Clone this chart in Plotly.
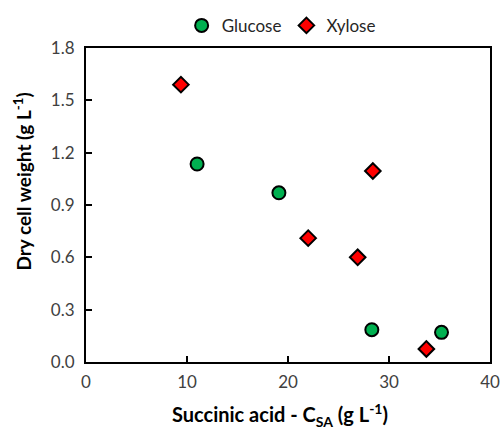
import plotly.graph_objects as go

glucose_x = [11.0, 19.1, 28.3, 35.2]
glucose_y = [1.135, 0.97, 0.185, 0.17]
xylose_x = [9.4, 22.0, 26.9, 28.4, 33.7]
xylose_y = [1.59, 0.71, 0.60, 1.095, 0.075]

x_ticks = [0, 10, 20, 30, 40]
y_ticks = [0.0, 0.3, 0.6, 0.9, 1.2, 1.5, 1.8]

x_title = "<b>Succinic acid - C<sub>SA</sub> (g L<sup>-1</sup>)</b>"
y_title = "<b>Dry cell weight (g L<sup>-1</sup>)</b>"

FONT = "Lato"
TICKC = "#404040"

fig = go.Figure()
fig.add_trace(go.Scatter(
    x=glucose_x, y=glucose_y, mode="markers", name="Glucose",
    marker=dict(symbol="circle", size=13, color="#00B050",
                line=dict(color="black", width=2)),
))
fig.add_trace(go.Scatter(
    x=xylose_x, y=xylose_y, mode="markers", name="Xylose",
    marker=dict(symbol="diamond", size=12, color="#FF0000",
                line=dict(color="black", width=2)),
))

axis_common = dict(
    showgrid=False, zeroline=False, showline=True, linecolor="black", linewidth=2,
    mirror=True, ticks="inside", ticklen=6, tickwidth=2, tickcolor="black",
    tickfont=dict(family=FONT, size=17, color=TICKC), automargin=False,
)

fig.update_layout(
    width=501, height=431,
    margin=dict(l=86, r=11, t=48, b=69),
    paper_bgcolor="white", plot_bgcolor="white",
    font=dict(family=FONT, size=17, color=TICKC),
    showlegend=True,
    legend=dict(orientation="h", x=0.483, xanchor="center",
                yref="container", y=0.94, yanchor="middle",
                font=dict(family=FONT, size=17, color="#262626"),
                bgcolor="rgba(0,0,0,0)", itemwidth=30),
    xaxis=dict(range=[0, 40], tickvals=x_ticks, ticktext=[str(v) for v in x_ticks],
               ticklabelstandoff=4, **axis_common),
    yaxis=dict(range=[0, 1.8], tickvals=y_ticks, tickformat=".1f",
               ticklabelstandoff=6, **axis_common),
    annotations=[
        dict(text=x_title, xref="paper", yref="paper", x=0.48, y=-0.168,
             xanchor="center", yanchor="middle", showarrow=False,
             font=dict(family=FONT, size=20, color="black")),
        dict(text=y_title, xref="paper", yref="paper", x=-0.158, y=0.575,
             xanchor="center", yanchor="middle", showarrow=False, textangle=-90,
             font=dict(family=FONT, size=19, color="black")),
    ],
)

fig.write_html("out.html")
